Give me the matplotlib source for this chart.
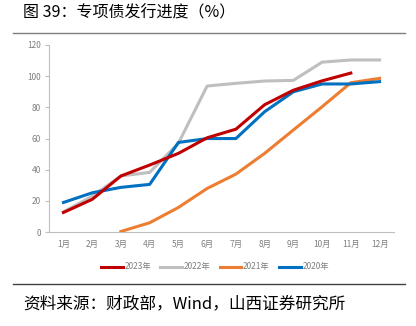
import numpy as np
import matplotlib.pyplot as plt

plt.rcParams['font.family'] = ['Noto Sans CJK SC', 'DejaVu Sans']

months = ['1月', '2月', '3月', '4月', '5月', '6月', '7月', '8月', '9月', '10月', '11月', '12月']
y2023 = [12.6, 21, 36, 43, 50.5, 60.5, 66, 81.7, 91, 97, 102]
y2022 = [13, 23, 36, 38.3, 57, 93.7, 95.4, 96.9, 97.3, 109, 110.4, 110.4]
y2021 = [0.4, 6, 15.8, 28, 37.2, 50.5, 65.5, 80.4, 95.8, 98.6]
y2020 = [19, 25.2, 28.7, 30.6, 57.5, 60, 60, 77.2, 90, 95, 95, 96.5]

fig = plt.figure(figsize=(4.16, 3.26), dpi=100)
ax = fig.add_axes([0.118, 0.288, 0.829, 0.574])

x = np.arange(len(months))
lw = 2.2
ax.plot(x[:len(y2023)], y2023, color='#C00000', lw=lw, label='2023年', zorder=5)
ax.plot(x, y2022, color='#BFBFBF', lw=lw, label='2022年', zorder=2)
ax.plot(x[2:2 + len(y2021)], y2021, color='#ED7D31', lw=lw, label='2021年', zorder=3)
ax.plot(x, y2020, color='#0070C0', lw=lw, label='2020年', zorder=4)

ax.set_xlim(-0.5, 11.5)
ax.set_ylim(0, 120)
ax.set_yticks(range(0, 121, 20))
ax.set_xticks(x)
ax.set_xticklabels(months)
for s in ['top', 'right']:
    ax.spines[s].set_visible(False)
for s in ['left', 'bottom']:
    ax.spines[s].set_color('#BFBFBF')
    ax.spines[s].set_linewidth(0.8)
ax.tick_params(axis='y', length=3, color='#BFBFBF', labelsize=6, labelcolor='#7F7F7F', pad=3)
ax.tick_params(axis='x', length=0, labelsize=6, labelcolor='#7F7F7F', pad=6)

fig.legend(loc='center', bbox_to_anchor=(0.517, 1 - 267 / 326), ncol=4, frameon=False,
           fontsize=6, handlelength=2.6, columnspacing=1.1, handletextpad=0.2,
           labelcolor='#7F7F7F')

fig.text(0.056, 1 - 13 / 326, '图 39：专项债发行进度（%）', fontsize=11.5, va='center', ha='left')
fig.add_artist(plt.Line2D([13 / 416, 405 / 416], [1 - 33 / 326, 1 - 33 / 326], color='#7F7F7F', lw=1))
fig.add_artist(plt.Line2D([13 / 416, 405 / 416], [1 - 284 / 326, 1 - 284 / 326], color='#404040', lw=1))
fig.text(0.055, 1 - 304 / 326, '资料来源：财政部，Wind，山西证券研究所', fontsize=12, va='center', ha='left')

fig.savefig('out.png', dpi=100)
